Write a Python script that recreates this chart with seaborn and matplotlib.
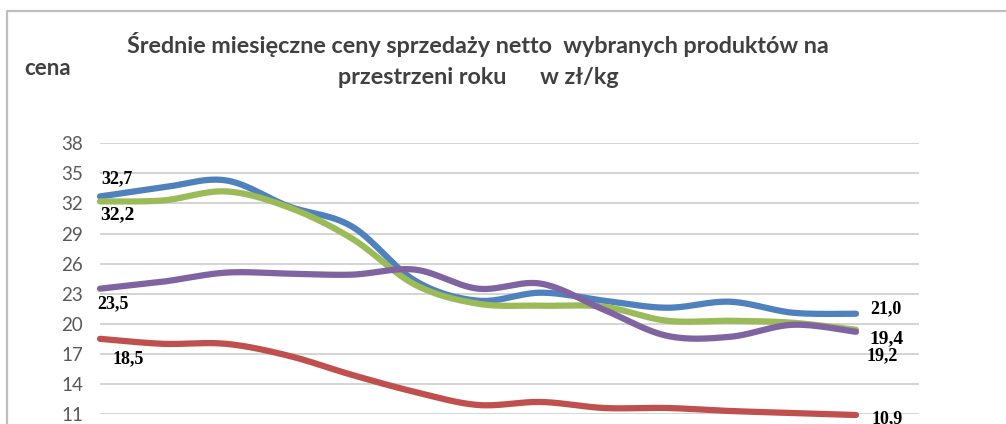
import numpy as np
import pandas as pd
import seaborn as sns
import matplotlib.pyplot as plt
from matplotlib.lines import Line2D

# dane - 13 punktow (miesiace), wartosci w zl/kg
miesiace = list(range(13))
ceny_1 = [32.7, 33.6, 34.3, 31.7, 29.7, 24.3, 22.3, 23.1, 22.3, 21.6, 22.2, 21.1, 21.0]  # niebieska
ceny_2 = [32.2, 32.3, 33.2, 31.6, 28.5, 23.9, 22.0, 21.8, 21.7, 20.3, 20.3, 20.1, 19.4]  # zielona
ceny_3 = [23.5, 24.2, 25.1, 25.0, 24.9, 25.4, 23.5, 24.0, 21.4, 18.8, 18.7, 19.9, 19.2]  # fioletowa
ceny_4 = [18.5, 18.0, 18.0, 16.8, 14.9, 13.2, 11.9, 12.2, 11.6, 11.6, 11.3, 11.1, 10.9]  # czerwona
y_ticks = list(range(11, 39, 3))

kolory = ['#4f81bd', '#9bbb59', '#8064a2', '#c0504d']


def wygladz(x, y, n=30):
    # wygladzanie linii jak w Excelu (Catmull-Rom / Bezier)
    x = np.asarray(x, float)
    y = np.asarray(y, float)
    xp = np.r_[x[0], x, x[-1]]
    yp = np.r_[y[0], y, y[-1]]
    xs, ys = [], []
    t = np.linspace(0, 1, n)
    for i in range(len(x) - 1):
        p0x, p3x = xp[i + 1], xp[i + 2]
        p0y, p3y = yp[i + 1], yp[i + 2]
        c1x = p0x + (xp[i + 2] - xp[i]) / 6
        c1y = p0y + (yp[i + 2] - yp[i]) / 6
        c2x = p3x - (xp[i + 3] - xp[i + 1]) / 6
        c2y = p3y - (yp[i + 3] - yp[i + 1]) / 6
        bx = (1-t)**3*p0x + 3*(1-t)**2*t*c1x + 3*(1-t)*t**2*c2x + t**3*p3x
        by = (1-t)**3*p0y + 3*(1-t)**2*t*c1y + 3*(1-t)*t**2*c2y + t**3*p3y
        xs.extend(bx[:-1] if i < len(x) - 2 else bx)
        ys.extend(by[:-1] if i < len(x) - 2 else by)
    return np.array(xs), np.array(ys)


sns.set_theme(style='white')
plt.rcParams['font.family'] = ['Lato', 'DejaVu Sans']

fig = plt.figure(figsize=(10.06, 4.24), dpi=100)
ax = fig.add_axes([100/1006, 10/424, 819/1006, 270.7/424])

frames = []
for nr, ceny in enumerate([ceny_1, ceny_2, ceny_3, ceny_4]):
    xs, ys = wygladz(miesiace, ceny)
    frames.append(pd.DataFrame({'x': xs, 'cena': ys, 'seria': nr}))
df = pd.concat(frames, ignore_index=True)

sns.lineplot(data=df, x='x', y='cena', hue='seria', palette=kolory, sort=False,
             estimator=None, linewidth=4.5, legend=False, ax=ax)
for line in ax.get_lines():
    line.set_solid_capstyle('round')
    line.set_clip_on(False)

ax.set_xlim(0, 13)
ax.set_ylim(11, 38)
ax.set_yticks(y_ticks)
ax.set_xticks([])
ax.set_xlabel('')
ax.set_ylabel('')
ax.grid(axis='y', color='#d4d4d4', linewidth=1.4)
ax.set_axisbelow(True)
for s in ax.spines.values():
    s.set_visible(False)
ax.tick_params(axis='y', length=0, pad=12, labelsize=13.5, labelcolor='#595959')

# etykiety danych
etykiety = [
    (0, ceny_1[0], '32,7', 1, 18, 13),
    (0, ceny_2[0], '32,2', 0, -13, 14),
    (0, ceny_3[0], '23,5', -3, -15, 13),
    (0, ceny_4[0], '18,5', 13, -20, 13),
    (12, ceny_1[12], '21,0', 14, 5, 13),
    (12, ceny_2[12], '19,4', 13, -9, 14),
    (12, ceny_3[12], '19,2', 11, -24, 13),
    (12, ceny_4[12], '10,9', 16, -4, 13),
]
for x, y, txt, dx, dy, fs in etykiety:
    ax.annotate(txt, xy=(x, y), xytext=(dx, dy), textcoords='offset pixels',
                ha='left', va='center', fontsize=fs, fontweight='bold',
                family='Liberation Serif', color='black', annotation_clip=False)

# tytul i opis osi
fig.text(478/1006, 1 - 53/424, 'Średnie miesięczne ceny sprzedaży netto  wybranych produktów na',
         ha='center', va='baseline', fontsize=16.8, fontweight='bold', color='#404040')
fig.text(478/1006, 1 - 84/424, 'przestrzeni roku      w zł/kg',
         ha='center', va='baseline', fontsize=16.8, fontweight='bold', color='#404040')
fig.text(24/1006, 1 - 75/424, 'cena', ha='left', va='baseline',
         fontsize=16, fontweight='bold', color='#404040')

# ramka
fig.add_artist(Line2D([7/1006, 7/1006, 1.0], [0, 1 - 11/424, 1 - 11/424],
                      color='#bfbfbf', linewidth=1.6, transform=fig.transFigure))

fig.savefig('out.png', dpi=100, facecolor='white')
